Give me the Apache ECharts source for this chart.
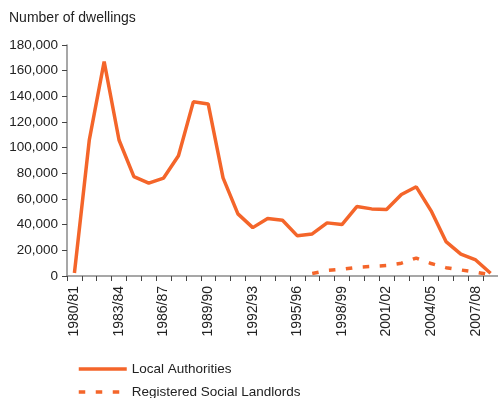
<!DOCTYPE html>
<html>
<head>
<meta charset="utf-8">
<script src="https://cdn.jsdelivr.net/npm/echarts@6/dist/echarts.min.js"></script>
<style>
  html, body { margin: 0; padding: 0; background: #fff; }
  #chart { width: 498px; height: 398px; }
</style>
</head>
<body>
<div id="chart"></div>
<script>
// Financial years shown on the category axis
var years = [
  '1980/81', '1981/82', '1982/83', '1983/84', '1984/85', '1985/86', '1986/87',
  '1987/88', '1988/89', '1989/90', '1990/91', '1991/92', '1992/93', '1993/94',
  '1994/95', '1995/96', '1996/97', '1997/98', '1998/99', '1999/00', '2000/01',
  '2001/02', '2002/03', '2003/04', '2004/05', '2005/06', '2006/07', '2007/08',
  '2008/09'
];

// Dwellings sold, by type of landlord
var localAuthorities = [
  2300, 106000, 167000, 106000, 77500, 72400, 76300, 93700, 135700, 134100,
  76500, 48400, 37700, 44800, 43500, 31300, 32800, 41400, 40100, 54100,
  52300, 51800, 63500, 69500, 50800, 26800, 17000, 12500, 2100
];
var registeredSocialLandlords = [
  null, null, null, null, null, null, null, null, null, null,
  null, null, null, null, null, null, 2000, 4300, 5200, 6800,
  7500, 8200, 10000, 14000, 9700, 6500, 4700, 3000, 1000
];

var yTicks = { min: 0, max: 180000, step: 20000 };

var orange = '#f4652a';
var textColor = '#222222';
var axisColor = '#8a8a8a';
var font = 'Liberation Sans, Arial, sans-serif';

// One legend block per series, stacked under the plot
function legendRow(name, top) {
  return {
    orient: 'vertical',
    left: 77,
    top: top,
    itemWidth: 48,
    itemHeight: 14,
    padding: 0,
    itemStyle: { opacity: 0 },
    lineStyle: { width: 3.5 },
    textStyle: { fontFamily: font, fontSize: 13.5, color: textColor },
    data: [name]
  };
}

var chart = echarts.init(document.getElementById('chart'), null, { renderer: 'canvas' });

chart.setOption({
  animation: false,
  backgroundColor: '#ffffff',
  textStyle: { fontFamily: font },
  title: {
    text: 'Number of dwellings',
    left: 9,
    top: 11,
    padding: 0,
    textStyle: { fontFamily: font, fontSize: 14, fontWeight: 'normal', color: textColor }
  },
  grid: { left: 67, right: 0, top: 45, bottom: 122, containLabel: false },
  legend: [
    legendRow('Local Authorities', 362),
    legendRow('Registered Social Landlords', 385)
  ],
  xAxis: {
    type: 'category',
    data: years,
    boundaryGap: true,
    axisLine: { lineStyle: { color: axisColor, width: 1.5 } },
    axisTick: { show: true, interval: 0, length: 5, lineStyle: { color: '#444', width: 1 } },
    axisLabel: {
      interval: 2,
      rotate: 90,
      margin: 10,
      fontFamily: font,
      fontSize: 14,
      color: textColor
    },
    splitLine: { show: false }
  },
  yAxis: {
    type: 'value',
    min: yTicks.min,
    max: yTicks.max,
    interval: yTicks.step,
    axisLine: { show: true, lineStyle: { color: axisColor, width: 1.5 } },
    axisTick: { show: true, length: 5, lineStyle: { color: '#444', width: 1 } },
    axisLabel: {
      margin: 9,
      fontFamily: font,
      fontSize: 13.5,
      color: textColor,
      formatter: function (v) { return v.toLocaleString('en-GB'); }
    },
    splitLine: { show: false }
  },
  series: [
    {
      name: 'Local Authorities',
      type: 'line',
      data: localAuthorities,
      symbol: 'none',
      lineStyle: { color: orange, width: 3.5 },
      itemStyle: { color: orange }
    },
    {
      name: 'Registered Social Landlords',
      type: 'line',
      data: registeredSocialLandlords,
      symbol: 'none',
      connectNulls: false,
      lineStyle: { color: orange, width: 3.5, type: [6.5, 10.5] },
      itemStyle: { color: orange }
    }
  ]
});
</script>
</body>
</html>
